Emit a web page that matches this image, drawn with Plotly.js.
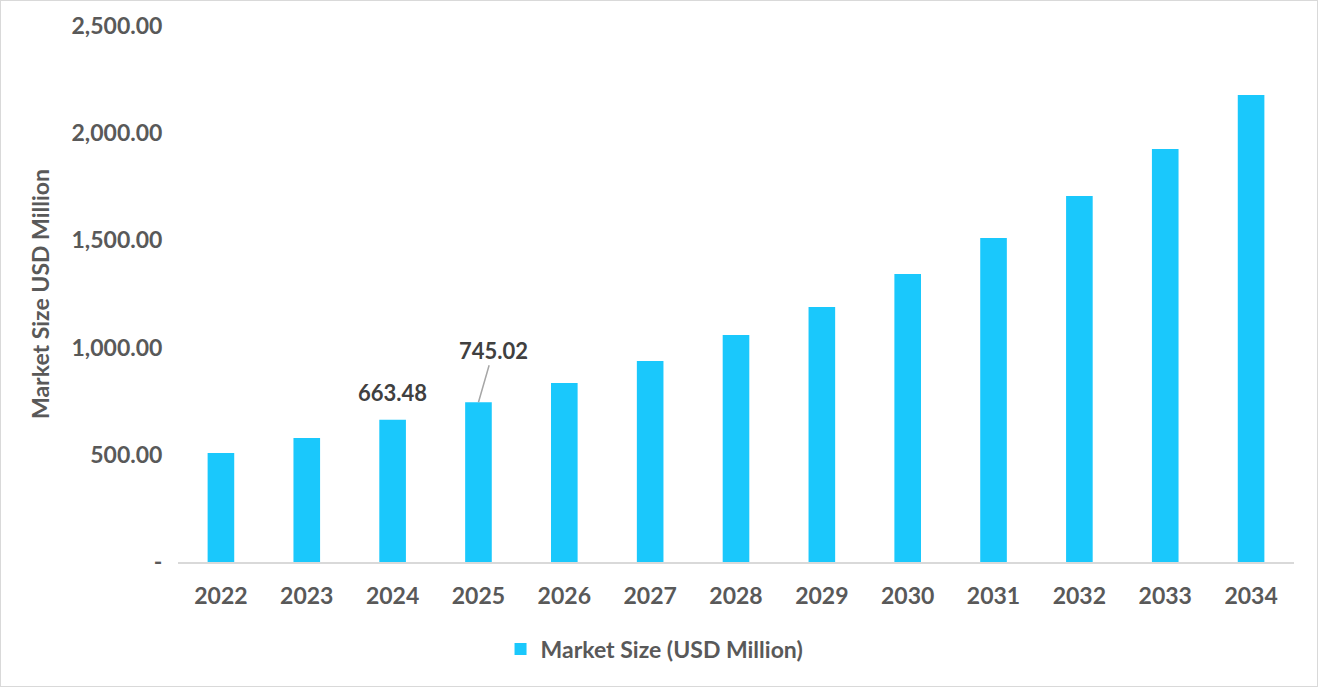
<!DOCTYPE html>
<html>
<head>
<meta charset="utf-8">
<script src="https://cdn.plot.ly/plotly-3.0.1.min.js"></script>
<style>
  body { margin: 0; background: #fff; }
  #myDiv { width: 1316px; height: 685px; border: 1px solid #d9d9d9; }
</style>
</head>
<body>
<div id="myDiv"></div>
<script>
var anos = ['2022', '2023', '2024', '2025', '2026', '2027', '2028', '2029', '2030', '2031', '2032', '2033', '2034'];
var valores = [508, 578, 663.48, 745.02, 835, 937, 1059, 1189, 1343, 1511, 1707, 1926, 2178];
var tickVals = [0, 500, 1000, 1500, 2000, 2500];
var tickText = ['-', '500.00', '1,000.00', '1,500.00', '2,000.00', '2,500.00'];

var fonte = 'Lato, "Open Sans", sans-serif';
var cinza = '#595959';

var data = [{
  x: anos,
  y: valores,
  name: 'Market Size (USD Million)',
  type: 'bar',
  marker: { color: '#1ac8fc' },
  hoverinfo: 'x+y'
}];

var layout = {
  width: 1316,
  height: 685,
  margin: { l: 177, r: 23, t: 25, b: 124 },
  paper_bgcolor: '#fff',
  plot_bgcolor: '#fff',
  bargap: 0.69,
  font: { family: fonte, color: cinza, size: 23 },
  xaxis: {
    type: 'category',
    categoryorder: 'array',
    categoryarray: anos,
    range: [-0.5, anos.length - 0.5],
    showgrid: false,
    showline: true,
    linecolor: '#d9d9d9',
    linewidth: 2,
    ticks: 'outside',
    ticklen: 12,
    tickcolor: 'rgba(0,0,0,0)',
    tickfont: { family: fonte, size: 23, color: cinza, weight: 'bold' }
  },
  yaxis: {
    range: [0, 2500],
    showgrid: false,
    zeroline: false,
    showline: false,
    tickvals: tickVals,
    ticktext: tickText,
    ticks: 'outside',
    ticklen: 10,
    tickcolor: 'rgba(0,0,0,0)',
    tickfont: { family: fonte, size: 23, color: cinza, weight: 'bold' },
    title: {
      text: 'Market Size USD Million',
      font: { family: fonte, size: 23, color: cinza, weight: 'bold' },
      standoff: 15
    }
  },
  showlegend: true,
  legend: {
    orientation: 'h',
    x: 0.427,
    xanchor: 'center',
    yref: 'container',
    y: 0.054,
    yanchor: 'middle',
    font: { family: fonte, size: 23, color: cinza, weight: 'bold' }
  },
  annotations: [
    {
      x: 2, y: valores[2],
      xref: 'x', yref: 'y',
      text: '663.48',
      showarrow: false,
      yanchor: 'bottom',
      yshift: 12,
      font: { family: fonte, size: 22, color: '#404040', weight: 'bold' }
    },
    {
      x: 3, y: valores[3],
      xref: 'x', yref: 'y',
      text: '745.02',
      showarrow: true,
      arrowhead: 0,
      arrowwidth: 1.5,
      arrowcolor: '#a6a6a6',
      ax: 15,
      ay: -52,
      font: { family: fonte, size: 22, color: '#404040', weight: 'bold' }
    }
  ]
};

Plotly.newPlot('myDiv', data, layout, { displayModeBar: false, staticPlot: true });
</script>
</body>
</html>
